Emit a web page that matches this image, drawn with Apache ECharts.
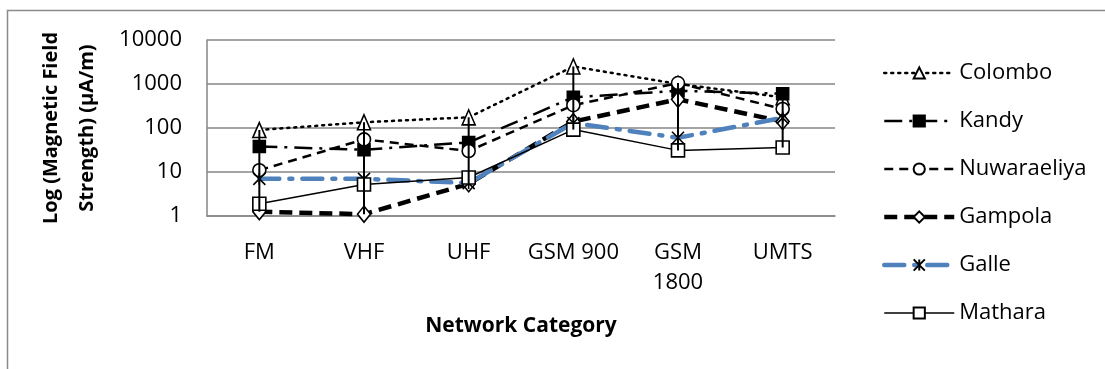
<!DOCTYPE html>
<html><head><meta charset="utf-8">
<script src="https://cdn.jsdelivr.net/npm/echarts@6/dist/echarts.min.js"></script>
<style>html,body{margin:0;padding:0;background:#fff}#c{width:1105px;height:369px}</style>
</head><body><div id="c"></div>
<script>
const categories = ['FM', 'VHF', 'UHF', 'GSM 900', 'GSM\n1800', 'UMTS'];
const colombo = [90, 135, 175, 2500, 1000, 500];
const kandy = [38, 32, 47, 500, 700, 600];
const nuwaraeliya = [11, 55, 30, 330, 1050, 270];
const gampola = [1.25, 1.1, 5.4, 140, 450, 140];
const galle = [7, 7, 5.6, 130, 60, 170];
const mathara = [1.9, 5.2, 7.5, 92, 31, 36];
const yTicks = [1, 10, 100, 1000, 10000];

const FONT = 'Open Sans';
const all = [colombo, kandy, nuwaraeliya, gampola, galle, mathara];
const hiLo = categories.map((c, i) => [i, Math.max(...all.map(a => a[i])), Math.min(...all.map(a => a[i]))]);

function mk(name, data, line, sym, size, fill, extra) {
  return Object.assign({
    name, type: 'line', data, symbol: sym, symbolSize: size,
    lineStyle: line,
    itemStyle: { color: fill, borderColor: '#000', borderWidth: 1.6 },
    emphasis: { disabled: true }
  }, extra || {});
}
const starPath = 'path://M0,0L12,12M12,0L0,12M6,0L6,12';

const chart = echarts.init(document.getElementById('c'), null, { renderer: 'canvas' });
chart.setOption({
  animation: false,
  textStyle: { fontFamily: FONT },
  graphic: [{ type: 'rect', shape: { x: 7.5, y: 10.5, width: 1300, height: 500 }, style: { fill: 'none', stroke: '#8a8a8a', lineWidth: 1.5 }, silent: true }],
  grid: { left: 207, right: 270, top: 40, bottom: 153 },
  legend: {
    orient: 'vertical', left: 877, top: 56,
    itemWidth: 70, itemHeight: 14, itemGap: 24,
    lineStyle: { width: 'inherit' },
    textStyle: { fontFamily: FONT, fontSize: 22, color: '#000', lineHeight: 24 },
    data: ['Colombo', 'Kandy', 'Nuwaraeliya', 'Gampola', 'Galle', 'Mathara']
  },
  xAxis: {
    type: 'category', data: categories, boundaryGap: true,
    axisLine: { show: true, lineStyle: { color: '#868686', width: 1.5 } },
    axisTick: { show: false },
    axisLabel: { fontFamily: FONT, fontSize: 22, color: '#000', margin: 22, lineHeight: 30, interval: 0 },
    name: 'Network Category', nameLocation: 'middle', nameGap: 100,
    nameTextStyle: { fontFamily: FONT, fontSize: 21, fontWeight: 'bold', color: '#000' }
  },
  yAxis: {
    type: 'log', logBase: 10, min: yTicks[0], max: yTicks[yTicks.length - 1],
    axisLine: { show: true, lineStyle: { color: '#868686', width: 1.5 } },
    axisTick: { show: false },
    splitLine: { show: true, lineStyle: { color: '#868686', width: 1.5 } },
    axisLabel: { fontFamily: FONT, fontSize: 22, color: '#000', margin: 25, formatter: v => String(Math.round(v)) },
    name: 'Log (Magnetic Field\nStrength) (µA/m)', nameLocation: 'middle', nameRotate: 90, nameGap: 102,
    nameTextStyle: { fontFamily: FONT, fontSize: 20, fontWeight: 'bold', color: '#000', lineHeight: 36 }
  },
  series: [
    mk('Colombo', colombo, { color: '#000', width: 2.5, type: [2, 5], cap: 'round' }, 'triangle', [13, 15], '#fff'),
    mk('Kandy', kandy, { color: '#000', width: 2.5, type: [18, 7, 3, 7] }, 'rect', 12, '#000'),
    mk('Nuwaraeliya', nuwaraeliya, { color: '#000', width: 2.5, type: [9, 6] }, 'circle', 13, '#fff'),
    mk('Gampola', gampola, { color: '#000', width: 4.5, type: [13, 7] }, 'diamond', [13, 16], '#fff'),
    mk('Galle', galle, { color: '#4F81BD', width: 4.5, type: [20, 10, 3, 10], cap: 'round' }, starPath, 12, 'none'),
    mk('Mathara', mathara, { color: '#000', width: 1.5 }, 'rect', 13, '#fff'),
    {
      type: 'custom', name: 'hilo', data: hiLo, z: 10, silent: true,
      encode: { x: 0, y: [1, 2] },
      renderItem: function (params, api) {
        const i = api.value(0);
        const p1 = api.coord([i, api.value(1)]);
        const p2 = api.coord([i, api.value(2)]);
        return { type: 'line', shape: { x1: p1[0], y1: p1[1], x2: p2[0], y2: p2[1] }, style: { stroke: '#000', lineWidth: 2 } };
      }
    }
  ]
});
</script></body></html>
